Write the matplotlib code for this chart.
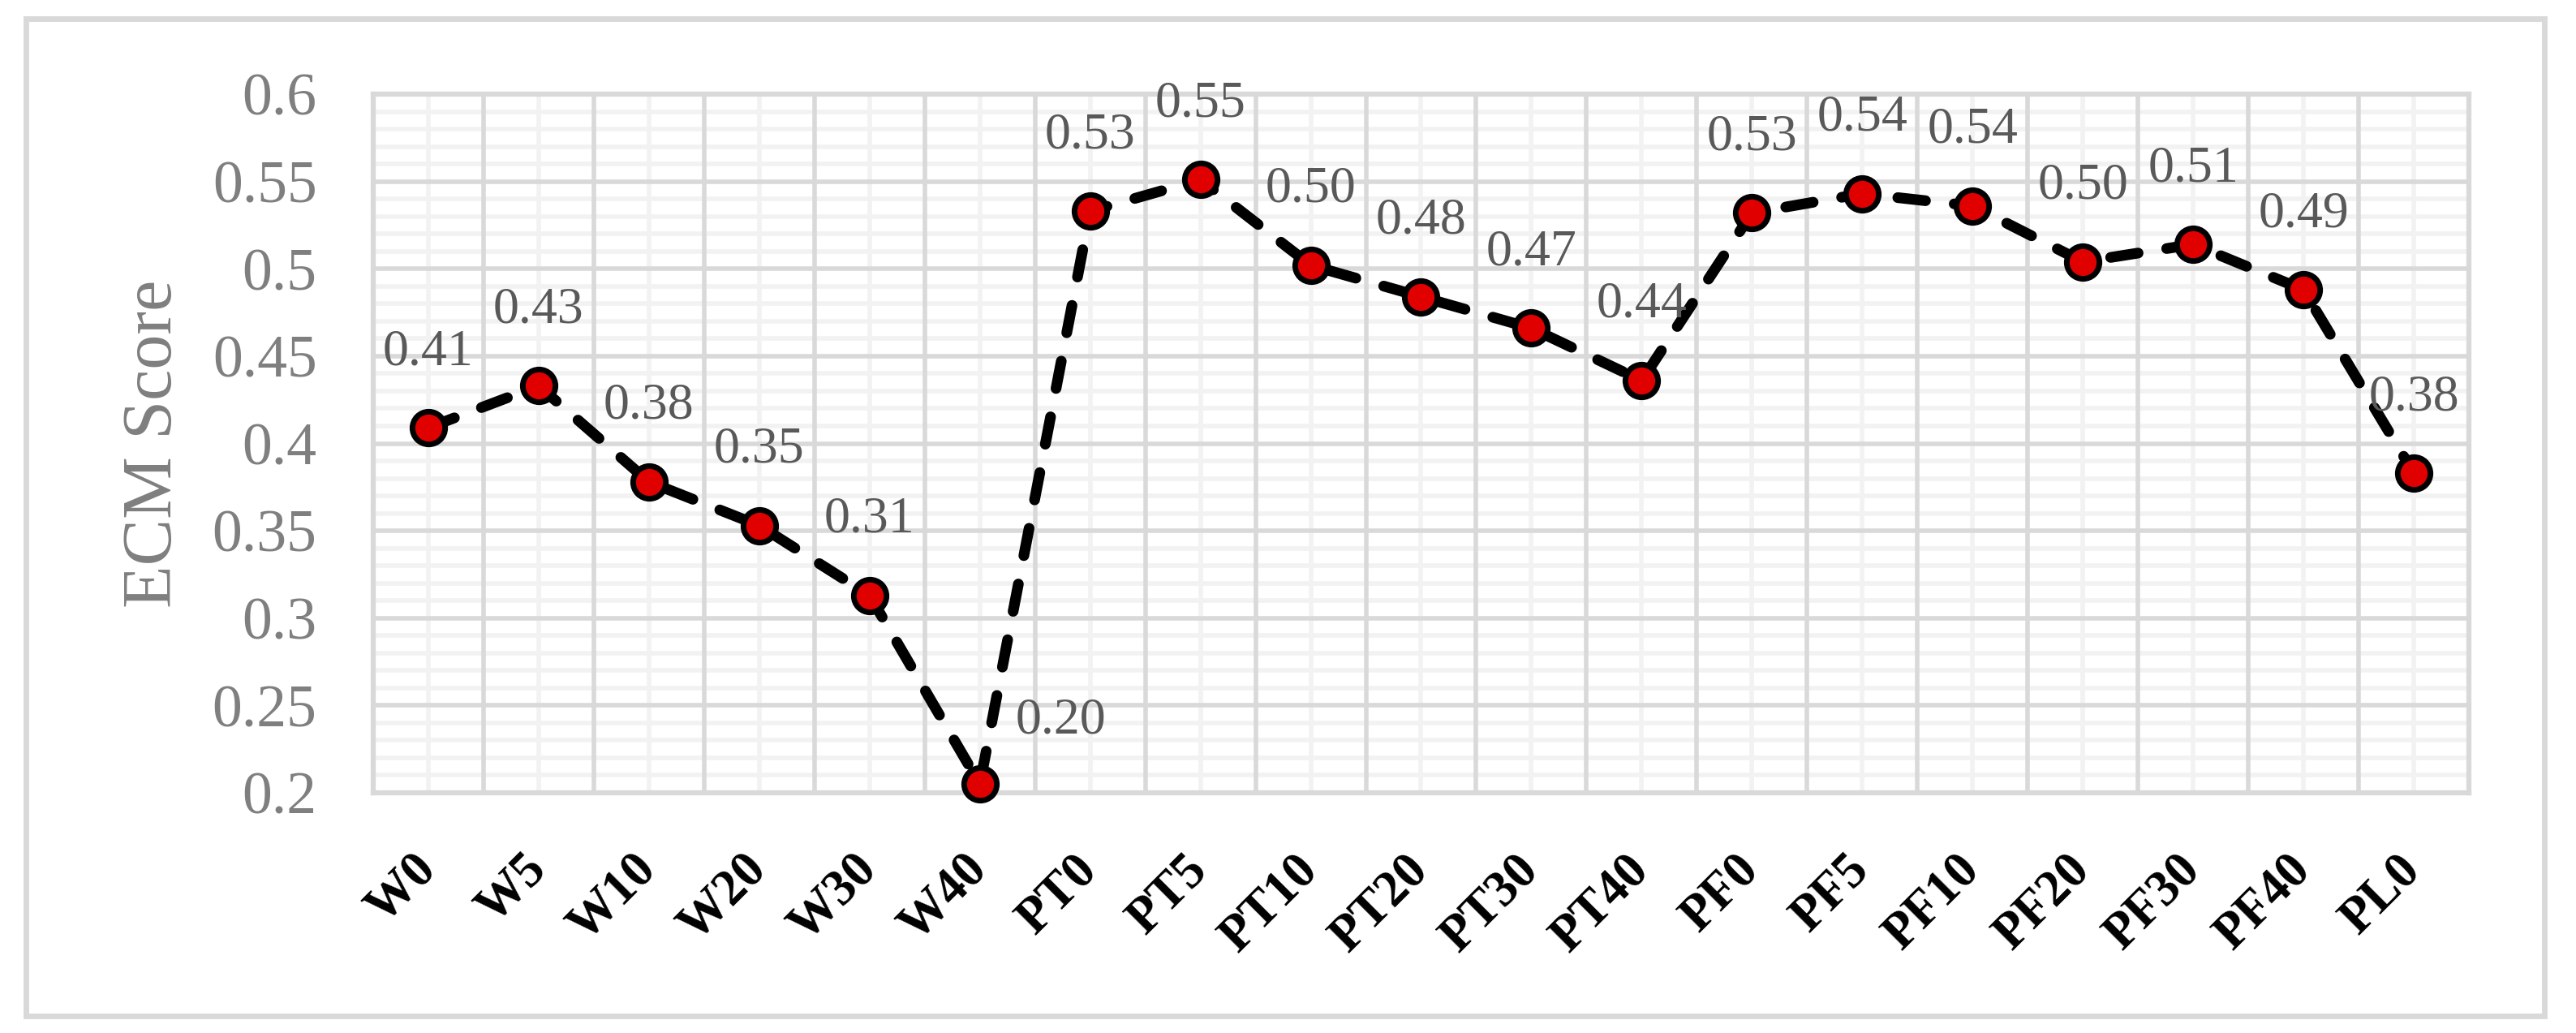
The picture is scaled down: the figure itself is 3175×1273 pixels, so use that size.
import matplotlib
matplotlib.use("Agg")
import matplotlib.pyplot as plt
import numpy as np
from matplotlib.patches import Rectangle

# ---------------- data ----------------
categories = ['W0', 'W5', 'W10', 'W20', 'W30', 'W40',
              'PT0', 'PT5', 'PT10', 'PT20', 'PT30', 'PT40',
              'PF0', 'PF5', 'PF10', 'PF20', 'PF30', 'PF40', 'PL0']
ecm_scores = [0.409, 0.433, 0.378, 0.353, 0.313, 0.205,
              0.533, 0.551, 0.502, 0.484, 0.466, 0.436,
              0.532, 0.543, 0.536, 0.504, 0.514, 0.488, 0.383]
y_ticks = [0.2, 0.25, 0.3, 0.35, 0.4, 0.45, 0.5, 0.55, 0.6]
y_tick_labels = ['0.2', '0.25', '0.3', '0.35', '0.4', '0.45', '0.5', '0.55', '0.6']
y_label = 'ECM Score'

# ---------------- style ----------------
plt.rcParams['font.family'] = ['Liberation Serif', 'DejaVu Serif']
W, H, DPI = 3175, 1273, 100
fig = plt.figure(figsize=(W / DPI, H / DPI), dpi=DPI)
fig.patch.set_facecolor('white')

left_px, right_px, top_px, bottom_px = 460, 3043, 116, 977
ax = fig.add_axes([left_px / W, 1 - bottom_px / H,
                   (right_px - left_px) / W, (bottom_px - top_px) / H])

x = np.arange(len(categories))
ax.set_xlim(-0.5, len(categories) - 0.5)
ax.set_ylim(y_ticks[0], y_ticks[-1])

major_c, minor_c = '#d9d9d9', '#f2f2f2'
grid_lw = 4.0
# minor vertical lines at category centres
for k in x:
    ax.axvline(k, color=minor_c, lw=grid_lw, zorder=0.5)
# minor horizontal lines every 0.01
minor_y = np.round(np.arange(y_ticks[0], y_ticks[-1] + 1e-9, 0.01), 3)
for yv in minor_y:
    if not np.any(np.isclose(yv, y_ticks)):
        ax.axhline(yv, color=minor_c, lw=grid_lw, zorder=0.5)
# major vertical lines at category boundaries
for k in x[1:]:
    ax.axvline(k - 0.5, color=major_c, lw=grid_lw, zorder=0.8)
# major horizontal lines
for yv in y_ticks[1:-1]:
    ax.axhline(yv, color=major_c, lw=grid_lw, zorder=0.8)

for sp in ax.spines.values():
    sp.set_color(major_c)
    sp.set_linewidth(4.5)

# ---------------- line ----------------
ax.plot(x, ecm_scores, color='black', lw=9.5,
        linestyle=(0, (2.6, 2.7)), dash_capstyle='round',
        marker='o', ms=29, mfc='#e00000', mec='black', mew=5,
        zorder=3, clip_on=False)

# data labels
label_offsets = {5: (72, 56)}
for i, v in enumerate(ecm_scores):
    dx, dy = label_offsets.get(i, (0, 67))
    ax.annotate(f"{v:.2f}", (x[i], v), xytext=(dx, dy),
                textcoords='offset points', ha='center', va='center',
                fontsize=46, color='#595959', zorder=4)

# ---------------- axes text ----------------
ax.set_yticks(y_ticks)
ax.set_yticklabels(y_tick_labels)
ax.tick_params(axis='y', length=0, pad=50, labelsize=53, labelcolor='#7f7f7f')

ax.set_xticks(x)
ax.set_xticklabels(categories, fontsize=45, fontweight='bold', color='black')
ax.tick_params(axis='x', length=0, pad=62)
plt.setp(ax.get_xticklabels(), rotation=45, ha='right', va='center',
         rotation_mode='anchor')

ax.set_ylabel(y_label, fontsize=62, color='#7f7f7f')
ax.yaxis.label.set_va('center')
ax.yaxis.set_label_coords((190 - left_px) / (right_px - left_px), 0.5)

# chart area border
fig.add_artist(Rectangle((32 / W, 1 - 1252 / H), (3136 - 32) / W, (1252 - 23) / H,
                         transform=fig.transFigure, fill=False,
                         edgecolor=major_c, lw=5))

fig.savefig('out.png', dpi=DPI, facecolor='white')
